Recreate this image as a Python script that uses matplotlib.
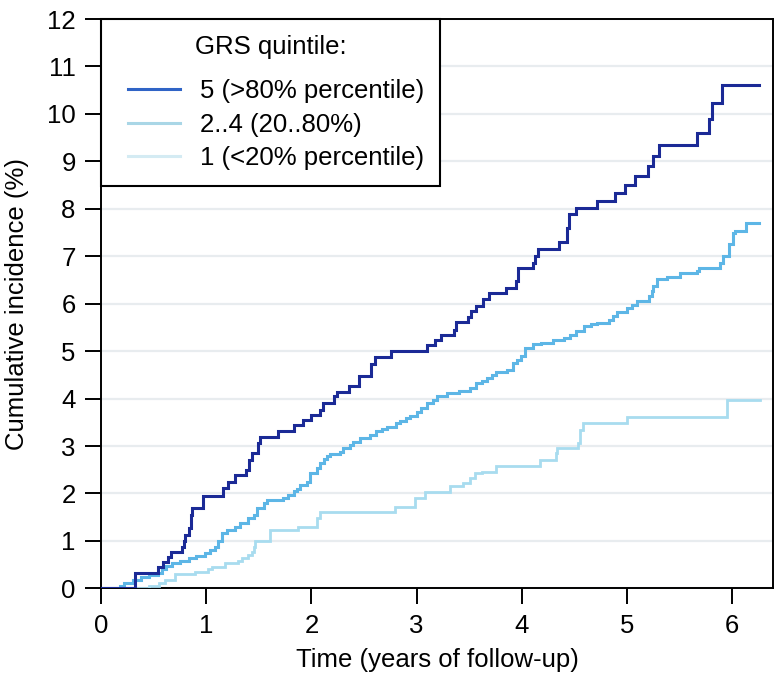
import matplotlib
matplotlib.use("Agg")
import matplotlib.pyplot as plt
from matplotlib.lines import Line2D
from matplotlib.legend_handler import HandlerLine2D

plt.rcParams['font.family'] = ['Liberation Sans', 'DejaVu Sans']

# ---- data (cumulative incidence, %) ----
t_q5 = [0, 0.32, 0.54, 0.59, 0.63, 0.66, 0.765, 0.79, 0.80, 0.83, 0.85, 0.86, 0.97,
        1.16, 1.21, 1.27, 1.38, 1.41, 1.43, 1.49, 1.51, 1.685, 1.83, 1.92, 2.00,
        2.08, 2.11, 2.215, 2.24, 2.36, 2.45, 2.57, 2.605, 2.755, 3.10, 3.18, 3.23,
        3.36, 3.38, 3.49, 3.52, 3.57, 3.63, 3.69, 3.85, 3.95, 3.97, 4.11, 4.13,
        4.16, 4.36, 4.435, 4.45, 4.515, 4.715, 4.89, 4.985, 5.08, 5.20, 5.255,
        5.31, 5.67, 5.78, 5.81, 5.905, 6.26]
y_q5 = [0, 0.33, 0.46, 0.56, 0.67, 0.77, 0.88, 0.99, 1.13, 1.27, 1.55, 1.69, 1.94,
        2.11, 2.25, 2.39, 2.50, 2.71, 2.85, 3.06, 3.20, 3.31, 3.45, 3.55, 3.66,
        3.77, 3.91, 4.05, 4.13, 4.26, 4.48, 4.72, 4.88, 5.00, 5.12, 5.24, 5.35,
        5.45, 5.61, 5.72, 5.84, 5.96, 6.09, 6.23, 6.33, 6.47, 6.76, 6.86, 7.00,
        7.15, 7.30, 7.60, 7.88, 8.02, 8.16, 8.34, 8.51, 8.69, 8.90, 9.11,
        9.34, 9.59, 9.89, 10.22, 10.60, 10.60]

t_q24 = [0, 0.18, 0.22, 0.30, 0.38, 0.45, 0.54, 0.58, 0.62, 0.67, 0.75, 0.83, 0.90,
         0.99, 1.03, 1.08, 1.11, 1.15, 1.20, 1.27, 1.32, 1.40, 1.45, 1.48, 1.55,
         1.574, 1.73, 1.78, 1.83, 1.86, 1.89, 1.955, 1.99, 2.05, 2.08, 2.12, 2.145,
         2.18, 2.27, 2.30, 2.37, 2.40, 2.46, 2.56, 2.61, 2.67, 2.72, 2.80, 2.84,
         2.90, 2.94, 3.00, 3.04, 3.10, 3.16, 3.19, 3.29, 3.40, 3.51, 3.57, 3.62,
         3.67, 3.72, 3.76, 3.86, 3.92, 3.96, 3.99, 4.03, 4.11, 4.18, 4.30, 4.40,
         4.46, 4.52, 4.59, 4.66, 4.72, 4.83, 4.87, 4.905, 5.00, 5.05, 5.10, 5.21,
         5.24, 5.25, 5.29, 5.38, 5.51, 5.67, 5.685, 5.89, 5.92, 5.97, 6.01, 6.03,
         6.14, 6.26]
y_q24 = [0, 0.05, 0.11, 0.18, 0.25, 0.29, 0.32, 0.40, 0.47, 0.53, 0.58, 0.64, 0.69,
         0.74, 0.80, 0.88, 1.00, 1.16, 1.22, 1.30, 1.37, 1.48, 1.55, 1.69, 1.80,
         1.87, 1.90, 1.97, 2.06, 2.10, 2.17, 2.25, 2.43, 2.53, 2.64, 2.72, 2.78,
         2.84, 2.88, 2.96, 3.02, 3.08, 3.17, 3.24, 3.31, 3.36, 3.40, 3.48, 3.53,
         3.59, 3.64, 3.72, 3.80, 3.91, 3.97, 4.05, 4.12, 4.17, 4.22, 4.33, 4.38,
         4.43, 4.50, 4.57, 4.61, 4.75, 4.82, 4.89, 5.07, 5.14, 5.17, 5.24, 5.28,
         5.33, 5.42, 5.52, 5.58, 5.60, 5.66, 5.74, 5.82, 5.91, 5.97, 6.05, 6.16,
         6.26, 6.37, 6.52, 6.56, 6.64, 6.68, 6.76, 6.86, 7.00, 7.25, 7.49, 7.53,
         7.71, 7.71]

t_q1 = [0, 0.45, 0.55, 0.61, 0.70, 0.89, 1.02, 1.05, 1.18, 1.30, 1.34, 1.40, 1.43,
        1.45, 1.465, 1.61, 1.875, 2.05, 2.08, 2.795, 2.99, 3.08, 3.32, 3.44, 3.51,
        3.56, 3.62, 3.76, 4.175, 4.33, 4.34, 4.54, 4.56, 4.58, 5.00, 5.95, 6.27]
y_q1 = [0, 0.05, 0.12, 0.18, 0.30, 0.35, 0.40, 0.46, 0.53, 0.58, 0.64, 0.70, 0.77,
        0.88, 1.00, 1.22, 1.30, 1.48, 1.62, 1.71, 1.90, 2.04, 2.15, 2.22, 2.32,
        2.43, 2.46, 2.57, 2.71, 2.85, 2.96, 3.06, 3.34, 3.48, 3.62, 3.96, 3.96]

labels = ["5 (>80% percentile)", "2..4 (20..80%)", "1 (<20% percentile)"]
curve_colors = ["#1b2a96", "#5db6e6", "#a8dcef"]
legend_colors = ["#3064c6", "#a9d6e6", "#d4ebf3"]
x_ticks = [0, 1, 2, 3, 4, 5, 6]
y_ticks = list(range(0, 13))

FS = 18.5

fig = plt.figure(figsize=(7.8, 6.86), dpi=100)
ax = fig.add_axes([0.1299, 0.1423, 0.8612, 0.8300])

series = [(t_q1, y_q1), (t_q24, y_q24), (t_q5, y_q5)]
cols = [curve_colors[2], curve_colors[1], curve_colors[0]]
lws = [2.0, 2.2, 2.2]
for (t, y), c, lw in zip(series, cols, lws):
    ax.step(t, y, where='post', color=c, lw=lw, solid_joinstyle='miter', zorder=3)

ax.set_xlim(0, 6.393)
ax.set_ylim(0, 12)
ax.set_xticks(x_ticks)
ax.set_yticks(y_ticks)
ax.yaxis.grid(True, color='#e8ecef', lw=1.6)
ax.xaxis.grid(False)
ax.set_axisbelow(True)

for s in ax.spines.values():
    s.set_linewidth(1.4)
    s.set_color('black')
ax.tick_params(direction='out', length=11.5, width=1.4, pad=7, labelsize=FS, colors='black')

ax.set_xlabel("Time (years of follow-up)", fontsize=FS, labelpad=7)
ax.set_ylabel("Cumulative incidence (%)", fontsize=FS, labelpad=13)

handles = [Line2D([], [], color=c, lw=2.2) for c in legend_colors]
leg = ax.legend(handles, labels, title="GRS quintile:", loc='upper left',
                bbox_to_anchor=(0, 1), borderaxespad=0, fontsize=FS, title_fontsize=FS,
                frameon=True, fancybox=False, framealpha=1, edgecolor='black',
                borderpad=0.62, handlelength=2.45, handletextpad=0.78, labelspacing=0.354,
                handler_map={Line2D: HandlerLine2D(xpad=0.4)})
leg.get_frame().set_linewidth(1.5)
leg._legend_box.sep = 14.8

fig.savefig("out.png", dpi=100)
